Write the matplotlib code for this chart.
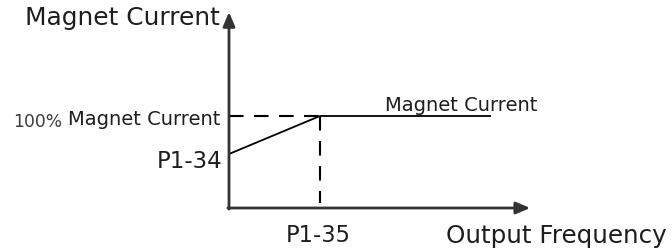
import matplotlib
matplotlib.use("Agg")
import matplotlib.pyplot as plt

# Schematic data (nominal units)
freq_points = [0.0, 1.0, 2.88]          # origin, P1-35, end of line
current_points = [0.587, 1.0, 1.0]      # P1-34, 100%, 100%
x_axis_end = 3.31
y_axis_end = 2.13
x_tick_labels = ["P1-35"]
y_tick_labels = ["100%", "Magnet Current", "P1-34"]
axis_titles = ["Magnet Current", "Output Frequency"]
curve_label = "Magnet Current"

plt.rcParams['font.family'] = ['DejaVu Sans']

fig = plt.figure(figsize=(6.72, 2.51), dpi=100)
ax = fig.add_axes([0, 0, 1, 1])
ax.set_xlim(-229 / 91, (672 - 229) / 91)
ax.set_ylim(-42 / 92, 209 / 92)
ax.axis('off')

axcol = '#333333'
txtcol = '#1e1e1e'
# axes arrows
ax.annotate('', xy=(x_axis_end, 0), xytext=(-0.012, 0),
            arrowprops=dict(arrowstyle='-|>,head_length=0.85,head_width=0.36',
                            color=axcol, lw=2.0,
                            mutation_scale=10, shrinkA=0, shrinkB=0))
ax.annotate('', xy=(0, y_axis_end), xytext=(0, -0.012),
            arrowprops=dict(arrowstyle='-|>,head_length=0.85,head_width=0.36',
                            color=axcol, lw=2.0,
                            mutation_scale=10, shrinkA=0, shrinkB=0))

# curve
ax.plot(freq_points, current_points, color='black', lw=1.3, solid_capstyle='butt')

# dashed guides
ax.plot([0, freq_points[1]], [current_points[1]] * 2, color='black', lw=1.5,
        dashes=(7, 5))
ax.plot([freq_points[1]] * 2, [current_points[1], 0.05], color='black', lw=1.5,
        dashes=(7, 5))

# labels
ax.text(-0.099, 0.913, y_tick_labels[1], ha='right', va='baseline',
        fontsize=14.0, color=txtcol)
ax.text(-1.835, 0.893, y_tick_labels[0], ha='right', va='baseline',
        fontsize=12.3, color='#3c3c3c')
ax.text(-0.077, 0.446, y_tick_labels[2], ha='right', va='baseline',
        fontsize=16.5, color=txtcol)
ax.text(freq_points[1] - 0.015, -0.359, x_tick_labels[0], ha='center', va='baseline',
        fontsize=16.3, color=txtcol)
ax.text(-0.099, 2.0, axis_titles[0], ha='right', va='baseline',
        fontsize=17.9, color=txtcol)
ax.text(4.81, -0.37, axis_titles[1], ha='right', va='baseline',
        fontsize=17.7, color=txtcol)
ax.text(1.714, 1.065, curve_label, ha='left', va='baseline',
        fontsize=14.0, color=txtcol)

fig.savefig('out.png', dpi=100, facecolor='white')
